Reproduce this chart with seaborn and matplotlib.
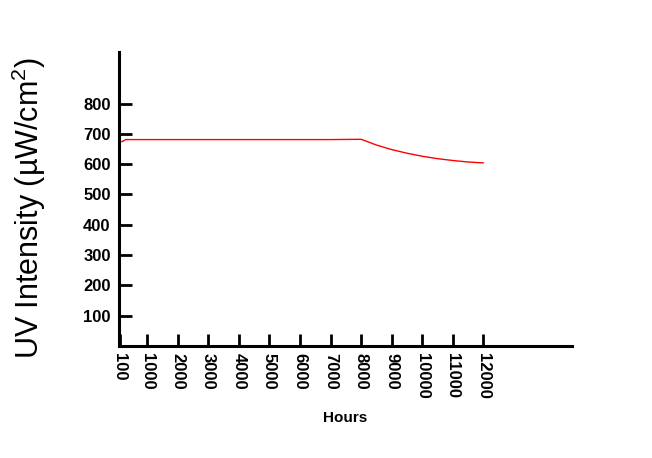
import matplotlib
matplotlib.use("Agg")
import matplotlib.pyplot as plt
import seaborn as sns
import pandas as pd

# Data
hours = [100, 200, 300, 1000, 2000, 3000, 4000, 5000, 6000, 7000, 8000,
         8500, 9000, 9500, 10000, 10500, 11000, 11500, 12000]
uv_intensity = [674, 675, 681, 681, 681, 681, 681, 681, 681, 681, 682,
                663, 648, 636, 626, 618, 612, 607, 604]

tick_hours = [100, 1000, 2000, 3000, 4000, 5000, 6000, 7000, 8000, 9000,
              10000, 11000, 12000]
tick_uv = [100, 200, 300, 400, 500, 600, 700, 800]

df = pd.DataFrame({"Hours": hours, "UV": uv_intensity})

sns.set_style("ticks")
plt.rcParams['font.family'] = ['Liberation Sans', 'DejaVu Sans']
plt.rcParams['mathtext.default'] = 'regular'

fig = plt.figure(figsize=(6.52, 4.58), dpi=100)
ax = fig.add_axes([0.1825, 0.2445, 0.695, 0.642])

sns.lineplot(data=df, x="Hours", y="UV", color="red", linewidth=1, ax=ax)

ax.set_xlim(80, 14900)
ax.set_ylim(0, 970)
ax.set_xticks(tick_hours)
ax.set_xticklabels([str(t) for t in tick_hours], rotation=270,
                   fontsize=12, fontweight="bold", color="black")
ax.set_yticks(tick_uv)
ax.set_yticklabels([str(t) for t in tick_uv], fontsize=12,
                   fontweight="bold", color="black")

ax.tick_params(axis="both", direction="in", length=9, width=2,
               color="black")
ax.tick_params(axis="y", pad=6)
ax.tick_params(axis="x", pad=5)

for side in ["left", "bottom"]:
    ax.spines[side].set_linewidth(2.2)
    ax.spines[side].set_color("black")
sns.despine(ax=ax)

ax.set_xlabel("Hours", fontsize=11, fontweight="bold", color="black",
              labelpad=9)
ax.set_ylabel("UV Intensity (µW/cm$^2$)", fontsize=22, color="black")
ax.yaxis.set_label_coords(-0.156, 0.471)

fig.savefig("out.png", dpi=100)
